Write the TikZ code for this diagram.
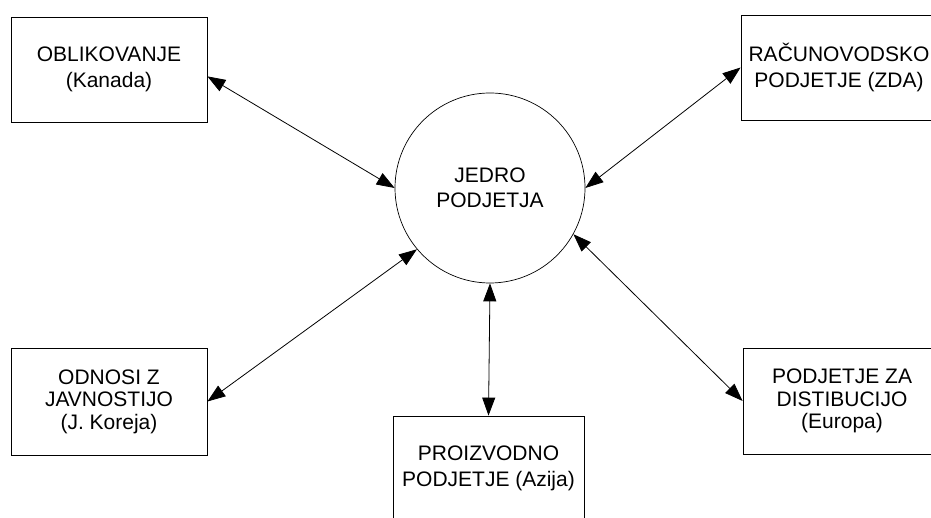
\documentclass[tikz,border=0pt]{standalone}
\usepackage{fontspec}
\setmainfont{Liberation Sans}
\usetikzlibrary{arrows.meta}
\begin{document}
\begin{tikzpicture}[x=1pt, y=-1pt,
  unit/.style={draw, line width=0.8pt, rectangle, align=center, inner sep=0pt,
    font=\fontsize{21}{25.5}\selectfont},
  unitthree/.style={unit, font=\fontsize{21}{22.5}\selectfont},
  core/.style={draw, line width=0.7pt, circle, minimum size=190pt, inner sep=0pt,
    align=center, font=\fontsize{21}{25.5}\selectfont},
  link/.style={line width=0.8pt, {Triangle[length=18pt,width=13pt]}-{Triangle[length=18pt,width=13pt]}}]
  \useasboundingbox (0,0) rectangle (931,518);

  % central unit
  \node[core] (core) at (490,188) {JEDRO\\PODJETJA};

  % surrounding units
  \node[unit, minimum width=196pt, minimum height=105pt] (design) at (109,69.5) {OBLIKOVANJE\\(Kanada)};
  \node[unit, minimum width=196pt, minimum height=105pt] (account) at (839,67.5) {RAČUNOVODSKO\\PODJETJE (ZDA)};
  \node[unitthree, minimum width=196pt, minimum height=107pt] (pr) at (109,401.5) {ODNOSI Z\\JAVNOSTIJO\\(J. Koreja)};
  \node[unit, minimum width=191pt, minimum height=105pt] (prod) at (488.5,468.5) {PROIZVODNO\\PODJETJE (Azija)};
  \node[unitthree, minimum width=198pt, minimum height=106pt] (dist) at (842,401) {PODJETJE ZA\\DISTIBUCIJO\\(Europa)};

  % two-way links
  \draw[link] (design.-4.4) -- (core.180);
  \draw[link] (account.west) -- (core.0);
  \draw[link] (pr.east) -- (core.220);
  \draw[link] (prod.north) -- (core.270);
  \draw[link] (dist.west) -- (core.-29);
\end{tikzpicture}
\end{document}
